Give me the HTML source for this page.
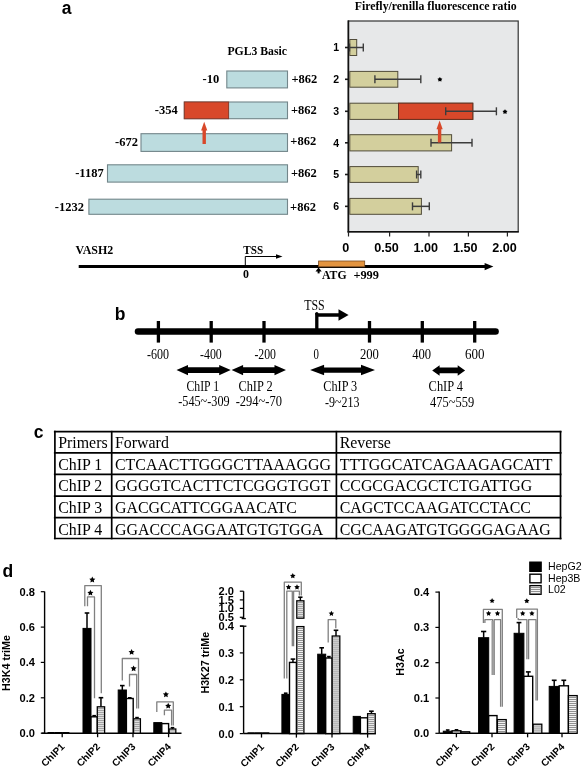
<!DOCTYPE html>
<html><head><meta charset="utf-8"><style>
html,body{margin:0;padding:0;background:#fff;}
body{width:584px;height:767px;overflow:hidden;font-family:"Liberation Sans",sans-serif;}
svg{display:block;will-change:transform;}
</style></head><body>
<svg width="584" height="767" viewBox="0 0 584 767">
<text x="61.80" y="13.80" font-family="'Liberation Sans', sans-serif" font-size="17.5" font-weight="bold" text-anchor="start" fill="#000" >a</text>
<text x="114.80" y="320.40" font-family="'Liberation Sans', sans-serif" font-size="17.5" font-weight="bold" text-anchor="start" fill="#000" >b</text>
<text x="33.80" y="437.60" font-family="'Liberation Sans', sans-serif" font-size="17.5" font-weight="bold" text-anchor="start" fill="#000" >c</text>
<text x="2.60" y="576.80" font-family="'Liberation Sans', sans-serif" font-size="17.5" font-weight="bold" text-anchor="start" fill="#000" >d</text>
<text x="227.40" y="54.80" font-family="'Liberation Serif', serif" font-size="11.7" font-weight="bold" text-anchor="start" fill="#000" textLength="59.6" lengthAdjust="spacingAndGlyphs" >PGL3 Basic</text>
<text x="354.70" y="10.10" font-family="'Liberation Serif', serif" font-size="11.8" font-weight="bold" text-anchor="start" fill="#000" textLength="161.9" lengthAdjust="spacingAndGlyphs" >Firefly/renilla fluorescence ratio</text>
<rect x="226.80" y="71.00" width="60.70" height="16.90" fill="#bcdcdf" stroke="#73868a" stroke-width="1.1" />
<text x="219.20" y="83.30" font-family="'Liberation Serif', serif" font-size="12.5" font-weight="bold" text-anchor="end" fill="#000" >-10</text>
<text x="291.40" y="83.10" font-family="'Liberation Serif', serif" font-size="12.5" font-weight="bold" text-anchor="start" fill="#000" >+862</text>
<rect x="184.30" y="102.00" width="103.20" height="16.70" fill="#bcdcdf" stroke="#73868a" stroke-width="1.1" />
<rect x="184.30" y="102.00" width="44.30" height="16.70" fill="#d8482a" stroke="#8a3a2a" stroke-width="1.0" />
<text x="177.70" y="114.40" font-family="'Liberation Serif', serif" font-size="12.5" font-weight="bold" text-anchor="end" fill="#000" >-354</text>
<text x="291.00" y="114.20" font-family="'Liberation Serif', serif" font-size="12.5" font-weight="bold" text-anchor="start" fill="#000" >+862</text>
<rect x="141.00" y="133.70" width="146.50" height="17.70" fill="#bcdcdf" stroke="#73868a" stroke-width="1.1" />
<text x="137.90" y="145.60" font-family="'Liberation Serif', serif" font-size="12.5" font-weight="bold" text-anchor="end" fill="#000" >-672</text>
<text x="290.30" y="145.40" font-family="'Liberation Serif', serif" font-size="12.5" font-weight="bold" text-anchor="start" fill="#000" >+862</text>
<rect x="107.50" y="164.80" width="180.00" height="17.30" fill="#bcdcdf" stroke="#73868a" stroke-width="1.1" />
<text x="103.70" y="177.00" font-family="'Liberation Serif', serif" font-size="12.5" font-weight="bold" text-anchor="end" fill="#000" >-1187</text>
<text x="290.90" y="176.80" font-family="'Liberation Serif', serif" font-size="12.5" font-weight="bold" text-anchor="start" fill="#000" >+862</text>
<rect x="88.90" y="199.20" width="198.60" height="15.10" fill="#bcdcdf" stroke="#73868a" stroke-width="1.1" />
<text x="84.00" y="210.80" font-family="'Liberation Serif', serif" font-size="12.5" font-weight="bold" text-anchor="end" fill="#000" >-1232</text>
<text x="290.10" y="210.60" font-family="'Liberation Serif', serif" font-size="12.5" font-weight="bold" text-anchor="start" fill="#000" >+862</text>
<line x1="204.20" y1="129.40" x2="204.20" y2="144.00" stroke="#d8482a" stroke-width="3.4" />
<polygon points="204.20,121.80 201.10,130.40 207.30,130.40" fill="#d8482a" />
<rect x="348.40" y="21.00" width="169.80" height="210.80" fill="#e7e8e9" stroke="#333" stroke-width="1.2" />
<line x1="348.40" y1="20.40" x2="348.40" y2="232.60" stroke="#111" stroke-width="1.7" />
<line x1="347.60" y1="231.80" x2="518.80" y2="231.80" stroke="#111" stroke-width="1.5" />
<rect x="349.80" y="39.50" width="6.90" height="16.00" fill="#d3cf9d" stroke="#514c3a" stroke-width="1.0" />
<line x1="349.50" y1="47.50" x2="363.30" y2="47.50" stroke="#3c3c3c" stroke-width="1.5" />
<line x1="349.50" y1="43.50" x2="349.50" y2="51.50" stroke="#3c3c3c" stroke-width="1.4" />
<line x1="363.30" y1="43.50" x2="363.30" y2="51.50" stroke="#3c3c3c" stroke-width="1.4" />
<line x1="345.00" y1="47.50" x2="348.40" y2="47.50" stroke="#1a1a1a" stroke-width="1.6" />
<text x="336.10" y="51.40" font-family="'Liberation Sans', sans-serif" font-size="10.5" font-weight="bold" text-anchor="middle" fill="#000" >1</text>
<rect x="349.80" y="71.40" width="48.00" height="15.80" fill="#d3cf9d" stroke="#514c3a" stroke-width="1.0" />
<line x1="374.90" y1="79.30" x2="420.80" y2="79.30" stroke="#3c3c3c" stroke-width="1.5" />
<line x1="374.90" y1="75.30" x2="374.90" y2="83.30" stroke="#3c3c3c" stroke-width="1.4" />
<line x1="420.80" y1="75.30" x2="420.80" y2="83.30" stroke="#3c3c3c" stroke-width="1.4" />
<line x1="345.00" y1="79.30" x2="348.40" y2="79.30" stroke="#1a1a1a" stroke-width="1.6" />
<text x="336.10" y="83.20" font-family="'Liberation Sans', sans-serif" font-size="10.5" font-weight="bold" text-anchor="middle" fill="#000" >2</text>
<rect x="349.80" y="103.20" width="123.00" height="16.20" fill="#d3cf9d" stroke="#514c3a" stroke-width="1.0" />
<rect x="398.50" y="103.20" width="74.30" height="16.20" fill="#d8482a" stroke="#6a3020" stroke-width="1.0" />
<line x1="445.70" y1="111.30" x2="496.40" y2="111.30" stroke="#3c3c3c" stroke-width="1.5" />
<line x1="445.70" y1="107.30" x2="445.70" y2="115.30" stroke="#3c3c3c" stroke-width="1.4" />
<line x1="496.40" y1="107.30" x2="496.40" y2="115.30" stroke="#3c3c3c" stroke-width="1.4" />
<line x1="345.00" y1="111.30" x2="348.40" y2="111.30" stroke="#1a1a1a" stroke-width="1.6" />
<text x="336.10" y="115.20" font-family="'Liberation Sans', sans-serif" font-size="10.5" font-weight="bold" text-anchor="middle" fill="#000" >3</text>
<rect x="349.80" y="134.70" width="101.80" height="16.20" fill="#d3cf9d" stroke="#514c3a" stroke-width="1.0" />
<line x1="431.00" y1="142.80" x2="472.00" y2="142.80" stroke="#3c3c3c" stroke-width="1.5" />
<line x1="431.00" y1="138.80" x2="431.00" y2="146.80" stroke="#3c3c3c" stroke-width="1.4" />
<line x1="472.00" y1="138.80" x2="472.00" y2="146.80" stroke="#3c3c3c" stroke-width="1.4" />
<line x1="345.00" y1="142.80" x2="348.40" y2="142.80" stroke="#1a1a1a" stroke-width="1.6" />
<text x="336.10" y="146.70" font-family="'Liberation Sans', sans-serif" font-size="10.5" font-weight="bold" text-anchor="middle" fill="#000" >4</text>
<rect x="349.80" y="166.60" width="68.40" height="15.80" fill="#d3cf9d" stroke="#514c3a" stroke-width="1.0" />
<line x1="416.60" y1="174.50" x2="420.80" y2="174.50" stroke="#3c3c3c" stroke-width="1.5" />
<line x1="416.60" y1="170.50" x2="416.60" y2="178.50" stroke="#3c3c3c" stroke-width="1.4" />
<line x1="420.80" y1="170.50" x2="420.80" y2="178.50" stroke="#3c3c3c" stroke-width="1.4" />
<line x1="345.00" y1="174.50" x2="348.40" y2="174.50" stroke="#1a1a1a" stroke-width="1.6" />
<text x="336.10" y="178.40" font-family="'Liberation Sans', sans-serif" font-size="10.5" font-weight="bold" text-anchor="middle" fill="#000" >5</text>
<rect x="349.80" y="198.40" width="71.60" height="15.90" fill="#d3cf9d" stroke="#514c3a" stroke-width="1.0" />
<line x1="412.50" y1="206.35" x2="429.30" y2="206.35" stroke="#3c3c3c" stroke-width="1.5" />
<line x1="412.50" y1="202.35" x2="412.50" y2="210.35" stroke="#3c3c3c" stroke-width="1.4" />
<line x1="429.30" y1="202.35" x2="429.30" y2="210.35" stroke="#3c3c3c" stroke-width="1.4" />
<line x1="345.00" y1="206.35" x2="348.40" y2="206.35" stroke="#1a1a1a" stroke-width="1.6" />
<text x="336.10" y="210.25" font-family="'Liberation Sans', sans-serif" font-size="10.5" font-weight="bold" text-anchor="middle" fill="#000" >6</text>
<polygon points="439.90,76.90 440.82,78.24 442.37,78.70 441.38,79.98 441.43,81.60 439.90,81.06 438.37,81.60 438.42,79.98 437.43,78.70 438.98,78.24" fill="#000" />
<polygon points="505.00,109.20 505.92,110.54 507.47,111.00 506.48,112.28 506.53,113.90 505.00,113.36 503.47,113.90 503.52,112.28 502.53,111.00 504.08,110.54" fill="#000" />
<line x1="439.60" y1="128.20" x2="439.60" y2="142.50" stroke="#d8482a" stroke-width="3.4" />
<polygon points="439.60,120.60 436.50,129.20 442.70,129.20" fill="#d8482a" />
<line x1="348.50" y1="231.80" x2="348.50" y2="236.50" stroke="#222" stroke-width="1.2" />
<text x="345.70" y="251.70" font-family="'Liberation Sans', sans-serif" font-size="12.6" font-weight="bold" text-anchor="middle" fill="#000" >0</text>
<line x1="389.60" y1="231.80" x2="389.60" y2="236.50" stroke="#222" stroke-width="1.2" />
<text x="386.60" y="251.70" font-family="'Liberation Sans', sans-serif" font-size="12.6" font-weight="bold" text-anchor="middle" fill="#000" >0.50</text>
<line x1="429.00" y1="231.80" x2="429.00" y2="236.50" stroke="#222" stroke-width="1.2" />
<text x="425.80" y="251.70" font-family="'Liberation Sans', sans-serif" font-size="12.6" font-weight="bold" text-anchor="middle" fill="#000" >1.00</text>
<line x1="468.40" y1="231.80" x2="468.40" y2="236.50" stroke="#222" stroke-width="1.2" />
<text x="465.30" y="251.70" font-family="'Liberation Sans', sans-serif" font-size="12.6" font-weight="bold" text-anchor="middle" fill="#000" >1.50</text>
<line x1="507.40" y1="231.80" x2="507.40" y2="236.50" stroke="#222" stroke-width="1.2" />
<text x="504.50" y="251.70" font-family="'Liberation Sans', sans-serif" font-size="12.6" font-weight="bold" text-anchor="middle" fill="#000" >2.00</text>
<text x="75.60" y="254.20" font-family="'Liberation Serif', serif" font-size="11.9" font-weight="bold" text-anchor="start" fill="#000" textLength="37.6" lengthAdjust="spacingAndGlyphs" >VASH2</text>
<text x="243.30" y="253.60" font-family="'Liberation Serif', serif" font-size="11.9" font-weight="bold" text-anchor="start" fill="#000" textLength="20.0" lengthAdjust="spacingAndGlyphs" >TSS</text>
<line x1="78.70" y1="266.60" x2="485.00" y2="266.60" stroke="#000" stroke-width="3.0" />
<polygon points="484.60,263.00 493.40,266.60 484.60,270.20" fill="#000" />
<polyline points="245.30,266.00 245.30,256.50 277.00,256.50" fill="none" stroke="#000" stroke-width="1.0" />
<polygon points="276.00,254.30 282.50,256.50 276.00,258.70" fill="#000" />
<text x="246.00" y="278.20" font-family="'Liberation Serif', serif" font-size="11.9" font-weight="bold" text-anchor="middle" fill="#000" >0</text>
<rect x="318.60" y="261.00" width="46.10" height="5.80" fill="#e3943f" stroke="#7a4a20" stroke-width="0.8" />
<line x1="318.60" y1="270.00" x2="318.60" y2="273.40" stroke="#000" stroke-width="2.0" />
<polygon points="318.60,267.60 315.50,271.40 321.70,271.40" fill="#000" />
<text x="322.00" y="278.80" font-family="'Liberation Serif', serif" font-size="11.9" font-weight="bold" text-anchor="start" fill="#000" textLength="24.6" lengthAdjust="spacingAndGlyphs" >ATG</text>
<text x="353.40" y="278.80" font-family="'Liberation Serif', serif" font-size="11.9" font-weight="bold" text-anchor="start" fill="#000" textLength="25.6" lengthAdjust="spacingAndGlyphs" >+999</text>
<line x1="138.00" y1="331.50" x2="495.60" y2="331.50" stroke="#000" stroke-width="6.5" stroke-linecap="round"/>
<line x1="158.40" y1="321.00" x2="158.40" y2="342.60" stroke="#000" stroke-width="3.3" />
<line x1="211.20" y1="321.00" x2="211.20" y2="342.60" stroke="#000" stroke-width="3.3" />
<line x1="264.00" y1="321.00" x2="264.00" y2="342.60" stroke="#000" stroke-width="3.3" />
<line x1="369.50" y1="321.00" x2="369.50" y2="342.60" stroke="#000" stroke-width="3.3" />
<line x1="422.30" y1="321.00" x2="422.30" y2="342.60" stroke="#000" stroke-width="3.3" />
<line x1="474.70" y1="321.00" x2="474.70" y2="342.60" stroke="#000" stroke-width="3.3" />
<text transform="translate(147.10,358.60) scale(1,1.15)" font-family="'Liberation Serif', serif" font-size="12.2" font-weight="normal" text-anchor="start" fill="#000" textLength="22.0" lengthAdjust="spacingAndGlyphs" >-600</text>
<text transform="translate(200.00,358.60) scale(1,1.15)" font-family="'Liberation Serif', serif" font-size="12.2" font-weight="normal" text-anchor="start" fill="#000" textLength="21.8" lengthAdjust="spacingAndGlyphs" >-400</text>
<text transform="translate(254.40,358.60) scale(1,1.15)" font-family="'Liberation Serif', serif" font-size="12.2" font-weight="normal" text-anchor="start" fill="#000" textLength="21.6" lengthAdjust="spacingAndGlyphs" >-200</text>
<text transform="translate(313.40,358.60) scale(1,1.15)" font-family="'Liberation Serif', serif" font-size="12.2" font-weight="normal" text-anchor="start" fill="#000" textLength="5.4" lengthAdjust="spacingAndGlyphs" >0</text>
<text transform="translate(359.90,358.60) scale(1,1.15)" font-family="'Liberation Serif', serif" font-size="12.2" font-weight="normal" text-anchor="start" fill="#000" textLength="19.0" lengthAdjust="spacingAndGlyphs" >200</text>
<text transform="translate(412.20,358.60) scale(1,1.15)" font-family="'Liberation Serif', serif" font-size="12.2" font-weight="normal" text-anchor="start" fill="#000" textLength="18.9" lengthAdjust="spacingAndGlyphs" >400</text>
<text transform="translate(465.00,358.60) scale(1,1.15)" font-family="'Liberation Serif', serif" font-size="12.2" font-weight="normal" text-anchor="start" fill="#000" textLength="19.5" lengthAdjust="spacingAndGlyphs" >600</text>
<polyline points="316.80,331.00 316.80,315.00 339.00,315.00" fill="none" stroke="#000" stroke-width="3.3" />
<circle cx="316.8" cy="313.6" r="1.6" fill="#000"/>
<polygon points="338.50,309.30 348.60,315.00 338.50,320.70" fill="#000" />
<text transform="translate(304.20,309.50) scale(1,1.15)" font-family="'Liberation Serif', serif" font-size="12.0" font-weight="normal" text-anchor="start" fill="#000" textLength="20.5" lengthAdjust="spacingAndGlyphs" >TSS</text>
<polygon points="176.50,370.10 188.00,364.90 188.00,367.20 219.20,367.20 219.20,364.90 230.70,370.10 219.20,375.30 219.20,373.00 188.00,373.00 188.00,375.30" fill="#000" />
<polygon points="231.60,370.10 243.10,364.90 243.10,367.20 274.50,367.20 274.50,364.90 286.00,370.10 274.50,375.30 274.50,373.00 243.10,373.00 243.10,375.30" fill="#000" />
<polygon points="310.10,370.10 324.10,364.85 324.10,367.40 361.00,367.40 361.00,364.85 375.00,370.10 361.00,375.35 361.00,372.80 324.10,372.80 324.10,375.35" fill="#000" />
<polygon points="432.20,370.40 439.60,365.15 439.60,367.60 457.70,367.60 457.70,365.15 465.10,370.40 457.70,375.65 457.70,373.20 439.60,373.20 439.60,375.65" fill="#000" />
<text transform="translate(186.50,391.40) scale(1,1.15)" font-family="'Liberation Serif', serif" font-size="11.9" font-weight="normal" text-anchor="start" fill="#000" textLength="32.5" lengthAdjust="spacingAndGlyphs" >ChIP 1</text>
<text transform="translate(238.40,391.40) scale(1,1.15)" font-family="'Liberation Serif', serif" font-size="11.9" font-weight="normal" text-anchor="start" fill="#000" textLength="34.3" lengthAdjust="spacingAndGlyphs" >ChIP 2</text>
<text transform="translate(323.30,391.40) scale(1,1.15)" font-family="'Liberation Serif', serif" font-size="11.9" font-weight="normal" text-anchor="start" fill="#000" textLength="33.9" lengthAdjust="spacingAndGlyphs" >ChIP 3</text>
<text transform="translate(428.60,391.40) scale(1,1.15)" font-family="'Liberation Serif', serif" font-size="11.9" font-weight="normal" text-anchor="start" fill="#000" textLength="34.4" lengthAdjust="spacingAndGlyphs" >ChIP 4</text>
<text transform="translate(178.20,406.40) scale(1,1.15)" font-family="'Liberation Serif', serif" font-size="11.9" font-weight="normal" text-anchor="start" fill="#000" textLength="51.4" lengthAdjust="spacingAndGlyphs" >-545~-309</text>
<text transform="translate(235.70,406.40) scale(1,1.15)" font-family="'Liberation Serif', serif" font-size="11.9" font-weight="normal" text-anchor="start" fill="#000" textLength="46.3" lengthAdjust="spacingAndGlyphs" >-294~-70</text>
<text transform="translate(325.00,406.80) scale(1,1.15)" font-family="'Liberation Serif', serif" font-size="11.9" font-weight="normal" text-anchor="start" fill="#000" textLength="34.4" lengthAdjust="spacingAndGlyphs" >-9~213</text>
<text transform="translate(430.00,407.30) scale(1,1.15)" font-family="'Liberation Serif', serif" font-size="11.9" font-weight="normal" text-anchor="start" fill="#000" textLength="44.2" lengthAdjust="spacingAndGlyphs" >475~559</text>
<text x="58.20" y="447.90" font-family="'Liberation Serif', serif" font-size="15.9" font-weight="normal" text-anchor="start" fill="#000" >Primers</text>
<text x="115.00" y="447.90" font-family="'Liberation Serif', serif" font-size="15.9" font-weight="normal" text-anchor="start" fill="#000" >Forward</text>
<text x="339.70" y="447.90" font-family="'Liberation Serif', serif" font-size="15.9" font-weight="normal" text-anchor="start" fill="#000" >Reverse</text>
<text x="58.20" y="469.80" font-family="'Liberation Serif', serif" font-size="15.9" font-weight="normal" text-anchor="start" fill="#000" >ChIP 1</text>
<text x="115.00" y="469.80" font-family="'Liberation Serif', serif" font-size="15.9" font-weight="normal" text-anchor="start" fill="#000" >CTCAACTTGGGCTTAAAGGG</text>
<text x="339.70" y="469.80" font-family="'Liberation Serif', serif" font-size="15.9" font-weight="normal" text-anchor="start" fill="#000" >TTTGGCATCAGAAGAGCATT</text>
<text x="58.20" y="491.20" font-family="'Liberation Serif', serif" font-size="15.9" font-weight="normal" text-anchor="start" fill="#000" >ChIP 2</text>
<text x="115.00" y="491.20" font-family="'Liberation Serif', serif" font-size="15.9" font-weight="normal" text-anchor="start" fill="#000" >GGGGTCACTTCTCGGGTGGT</text>
<text x="339.70" y="491.20" font-family="'Liberation Serif', serif" font-size="15.9" font-weight="normal" text-anchor="start" fill="#000" >CCGCGACGCTCTGATTGG</text>
<text x="58.20" y="513.00" font-family="'Liberation Serif', serif" font-size="15.9" font-weight="normal" text-anchor="start" fill="#000" >ChIP 3</text>
<text x="115.00" y="513.00" font-family="'Liberation Serif', serif" font-size="15.9" font-weight="normal" text-anchor="start" fill="#000" >GACGCATTCGGAACATC</text>
<text x="339.70" y="513.00" font-family="'Liberation Serif', serif" font-size="15.9" font-weight="normal" text-anchor="start" fill="#000" >CAGCTCCAAGATCCTACC</text>
<text x="58.20" y="534.50" font-family="'Liberation Serif', serif" font-size="15.9" font-weight="normal" text-anchor="start" fill="#000" >ChIP 4</text>
<text x="115.00" y="534.50" font-family="'Liberation Serif', serif" font-size="15.9" font-weight="normal" text-anchor="start" fill="#000" >GGACCCAGGAATGTGTGGA</text>
<text x="339.70" y="534.50" font-family="'Liberation Serif', serif" font-size="15.9" font-weight="normal" text-anchor="start" fill="#000" >CGCAAGATGTGGGGAGAAG</text>
<line x1="53.90" y1="431.70" x2="561.50" y2="431.70" stroke="#000" stroke-width="1.7" />
<line x1="53.90" y1="452.90" x2="561.50" y2="452.90" stroke="#000" stroke-width="1.7" />
<line x1="53.90" y1="474.30" x2="561.50" y2="474.30" stroke="#000" stroke-width="1.7" />
<line x1="53.90" y1="496.10" x2="561.50" y2="496.10" stroke="#000" stroke-width="1.7" />
<line x1="53.90" y1="517.60" x2="561.50" y2="517.60" stroke="#000" stroke-width="1.7" />
<line x1="53.90" y1="538.50" x2="561.50" y2="538.50" stroke="#000" stroke-width="1.7" />
<line x1="54.90" y1="430.85" x2="54.90" y2="539.35" stroke="#000" stroke-width="1.7" />
<line x1="111.70" y1="430.85" x2="111.70" y2="539.35" stroke="#000" stroke-width="1.7" />
<line x1="336.40" y1="430.85" x2="336.40" y2="539.35" stroke="#000" stroke-width="1.7" />
<line x1="560.50" y1="430.85" x2="560.50" y2="539.35" stroke="#000" stroke-width="1.7" />
<line x1="44.60" y1="591.50" x2="44.60" y2="733.20" stroke="#000" stroke-width="1.4" />
<line x1="40.80" y1="591.70" x2="44.60" y2="591.70" stroke="#000" stroke-width="1.2" />
<text x="35.00" y="595.60" font-family="'Liberation Sans', sans-serif" font-size="11.1" font-weight="bold" text-anchor="end" fill="#000" >0.8</text>
<line x1="40.80" y1="627.10" x2="44.60" y2="627.10" stroke="#000" stroke-width="1.2" />
<text x="35.00" y="631.00" font-family="'Liberation Sans', sans-serif" font-size="11.1" font-weight="bold" text-anchor="end" fill="#000" >0.6</text>
<line x1="40.80" y1="662.40" x2="44.60" y2="662.40" stroke="#000" stroke-width="1.2" />
<text x="35.00" y="666.30" font-family="'Liberation Sans', sans-serif" font-size="11.1" font-weight="bold" text-anchor="end" fill="#000" >0.4</text>
<line x1="40.80" y1="697.80" x2="44.60" y2="697.80" stroke="#000" stroke-width="1.2" />
<text x="35.00" y="701.70" font-family="'Liberation Sans', sans-serif" font-size="11.1" font-weight="bold" text-anchor="end" fill="#000" >0.2</text>
<line x1="40.80" y1="733.20" x2="44.60" y2="733.20" stroke="#000" stroke-width="1.2" />
<text x="35.00" y="737.10" font-family="'Liberation Sans', sans-serif" font-size="11.1" font-weight="bold" text-anchor="end" fill="#000" >0.0</text>
<line x1="41.60" y1="733.20" x2="181.50" y2="733.20" stroke="#000" stroke-width="1.5" />
<line x1="62.20" y1="733.20" x2="62.20" y2="737.20" stroke="#000" stroke-width="1.3" />
<text transform="translate(65.30,747.20) rotate(-45)" font-family="'Liberation Sans', sans-serif" font-size="10" font-weight="bold" text-anchor="end">ChIP1</text>
<line x1="97.60" y1="733.20" x2="97.60" y2="737.20" stroke="#000" stroke-width="1.3" />
<text transform="translate(100.70,747.20) rotate(-45)" font-family="'Liberation Sans', sans-serif" font-size="10" font-weight="bold" text-anchor="end">ChIP2</text>
<line x1="133.00" y1="733.20" x2="133.00" y2="737.20" stroke="#000" stroke-width="1.3" />
<text transform="translate(136.10,747.20) rotate(-45)" font-family="'Liberation Sans', sans-serif" font-size="10" font-weight="bold" text-anchor="end">ChIP3</text>
<line x1="168.60" y1="733.20" x2="168.60" y2="737.20" stroke="#000" stroke-width="1.3" />
<text transform="translate(171.70,747.20) rotate(-45)" font-family="'Liberation Sans', sans-serif" font-size="10" font-weight="bold" text-anchor="end">ChIP4</text>
<text transform="translate(10.3,663) rotate(-90)" font-family="'Liberation Sans', sans-serif" font-size="10.7" font-weight="bold" text-anchor="middle">H3K4 triMe</text>
<rect x="47.50" y="732.00" width="7.30" height="1.20" fill="#000" stroke="none" stroke-width="1" />
<rect x="54.80" y="732.00" width="7.30" height="1.20" fill="#000" stroke="none" stroke-width="1" />
<rect x="62.10" y="732.00" width="7.30" height="1.20" fill="#000" stroke="none" stroke-width="1" />
<line x1="87.00" y1="613.00" x2="87.00" y2="628.40" stroke="#000" stroke-width="1.5" />
<line x1="84.70" y1="613.00" x2="89.30" y2="613.00" stroke="#000" stroke-width="1.6" />
<rect x="83.00" y="628.40" width="8.00" height="104.80" fill="#000" stroke="#000" stroke-width="1.0" />
<line x1="94.15" y1="715.70" x2="94.15" y2="716.80" stroke="#000" stroke-width="1.5" />
<line x1="92.35" y1="715.70" x2="95.95" y2="715.70" stroke="#000" stroke-width="1.6" />
<rect x="91.00" y="716.80" width="6.30" height="16.40" fill="#fff" stroke="#000" stroke-width="1.4" />
<line x1="100.95" y1="697.70" x2="100.95" y2="706.80" stroke="#000" stroke-width="1.5" />
<line x1="98.65" y1="697.70" x2="103.25" y2="697.70" stroke="#000" stroke-width="1.6" />
<rect x="97.30" y="706.80" width="7.30" height="26.40" fill="#f2f2f2" stroke="#000" stroke-width="1.3" />
<line x1="97.90" y1="708.70" x2="104.00" y2="708.70" stroke="#707070" stroke-width="0.75" />
<line x1="97.90" y1="710.70" x2="104.00" y2="710.70" stroke="#707070" stroke-width="0.75" />
<line x1="97.90" y1="712.70" x2="104.00" y2="712.70" stroke="#707070" stroke-width="0.75" />
<line x1="97.90" y1="714.70" x2="104.00" y2="714.70" stroke="#707070" stroke-width="0.75" />
<line x1="97.90" y1="716.70" x2="104.00" y2="716.70" stroke="#707070" stroke-width="0.75" />
<line x1="97.90" y1="718.70" x2="104.00" y2="718.70" stroke="#707070" stroke-width="0.75" />
<line x1="97.90" y1="720.70" x2="104.00" y2="720.70" stroke="#707070" stroke-width="0.75" />
<line x1="97.90" y1="722.70" x2="104.00" y2="722.70" stroke="#707070" stroke-width="0.75" />
<line x1="97.90" y1="724.70" x2="104.00" y2="724.70" stroke="#707070" stroke-width="0.75" />
<line x1="97.90" y1="726.70" x2="104.00" y2="726.70" stroke="#707070" stroke-width="0.75" />
<line x1="97.90" y1="728.70" x2="104.00" y2="728.70" stroke="#707070" stroke-width="0.75" />
<line x1="97.90" y1="730.70" x2="104.00" y2="730.70" stroke="#707070" stroke-width="0.75" />
<line x1="122.30" y1="685.60" x2="122.30" y2="690.00" stroke="#000" stroke-width="1.5" />
<line x1="120.00" y1="685.60" x2="124.60" y2="685.60" stroke="#000" stroke-width="1.6" />
<rect x="118.20" y="690.00" width="8.20" height="43.20" fill="#000" stroke="#000" stroke-width="1.0" />
<line x1="129.80" y1="697.80" x2="129.80" y2="698.50" stroke="#000" stroke-width="1.5" />
<line x1="128.00" y1="697.80" x2="131.60" y2="697.80" stroke="#000" stroke-width="1.6" />
<rect x="126.40" y="698.50" width="6.80" height="34.70" fill="#fff" stroke="#000" stroke-width="1.4" />
<line x1="137.00" y1="717.60" x2="137.00" y2="718.80" stroke="#000" stroke-width="1.5" />
<line x1="135.20" y1="717.60" x2="138.80" y2="717.60" stroke="#000" stroke-width="1.6" />
<rect x="133.60" y="718.80" width="6.80" height="14.40" fill="#f2f2f2" stroke="#000" stroke-width="1.3" />
<line x1="134.20" y1="720.70" x2="139.80" y2="720.70" stroke="#707070" stroke-width="0.75" />
<line x1="134.20" y1="722.70" x2="139.80" y2="722.70" stroke="#707070" stroke-width="0.75" />
<line x1="134.20" y1="724.70" x2="139.80" y2="724.70" stroke="#707070" stroke-width="0.75" />
<line x1="134.20" y1="726.70" x2="139.80" y2="726.70" stroke="#707070" stroke-width="0.75" />
<line x1="134.20" y1="728.70" x2="139.80" y2="728.70" stroke="#707070" stroke-width="0.75" />
<line x1="134.20" y1="730.70" x2="139.80" y2="730.70" stroke="#707070" stroke-width="0.75" />
<rect x="153.80" y="722.60" width="8.00" height="10.60" fill="#000" stroke="#000" stroke-width="1.0" />
<rect x="161.80" y="723.60" width="6.80" height="9.60" fill="#fff" stroke="#000" stroke-width="1.4" />
<line x1="172.50" y1="727.70" x2="172.50" y2="729.00" stroke="#000" stroke-width="1.5" />
<line x1="170.70" y1="727.70" x2="174.30" y2="727.70" stroke="#000" stroke-width="1.6" />
<rect x="169.20" y="729.00" width="6.60" height="4.20" fill="#f2f2f2" stroke="#000" stroke-width="1.3" />
<line x1="169.80" y1="730.90" x2="175.20" y2="730.90" stroke="#707070" stroke-width="0.75" />
<polyline points="84.80,606.30 84.80,585.60 101.30,585.60 101.30,693.20" fill="none" stroke="#808080" stroke-width="1.3" stroke-linejoin="round"/>
<polyline points="87.50,606.30 87.50,596.90 94.50,596.90 94.50,698.20" fill="none" stroke="#808080" stroke-width="1.3" stroke-linejoin="round"/>
<polygon points="92.30,576.60 93.24,578.51 95.34,578.81 93.82,580.29 94.18,582.39 92.30,581.40 90.42,582.39 90.78,580.29 89.26,578.81 91.36,578.51" fill="#000" />
<polygon points="90.40,589.80 91.34,591.71 93.44,592.01 91.92,593.49 92.28,595.59 90.40,594.60 88.52,595.59 88.88,593.49 87.36,592.01 89.46,591.71" fill="#000" />
<polyline points="122.30,680.40 122.30,658.50 138.50,658.50 138.50,708.50" fill="none" stroke="#808080" stroke-width="1.3" stroke-linejoin="round"/>
<polyline points="129.50,686.60 129.50,674.50 136.70,674.50 136.70,708.50" fill="none" stroke="#808080" stroke-width="1.3" stroke-linejoin="round"/>
<polygon points="131.60,649.00 132.54,650.91 134.64,651.21 133.12,652.69 133.48,654.79 131.60,653.80 129.72,654.79 130.08,652.69 128.56,651.21 130.66,650.91" fill="#000" />
<polygon points="133.60,665.40 134.54,667.31 136.64,667.61 135.12,669.09 135.48,671.19 133.60,670.20 131.72,671.19 132.08,669.09 130.56,667.61 132.66,667.31" fill="#000" />
<polyline points="156.80,711.90 156.80,701.90 173.30,701.90 173.30,725.60" fill="none" stroke="#808080" stroke-width="1.3" stroke-linejoin="round"/>
<polyline points="164.40,715.30 164.40,710.10 171.60,710.10 171.60,725.60" fill="none" stroke="#808080" stroke-width="1.3" stroke-linejoin="round"/>
<polygon points="165.90,691.40 166.84,693.31 168.94,693.61 167.42,695.09 167.78,697.19 165.90,696.20 164.02,697.19 164.38,695.09 162.86,693.61 164.96,693.31" fill="#000" />
<polygon points="168.20,702.80 169.14,704.71 171.24,705.01 169.72,706.49 170.08,708.59 168.20,707.60 166.32,708.59 166.68,706.49 165.16,705.01 167.26,704.71" fill="#000" />
<line x1="243.60" y1="626.20" x2="243.60" y2="733.60" stroke="#000" stroke-width="1.4" />
<line x1="239.80" y1="626.00" x2="243.60" y2="626.00" stroke="#000" stroke-width="1.2" />
<text x="233.90" y="629.90" font-family="'Liberation Sans', sans-serif" font-size="11.1" font-weight="bold" text-anchor="end" fill="#000" >0.4</text>
<line x1="239.80" y1="652.90" x2="243.60" y2="652.90" stroke="#000" stroke-width="1.2" />
<text x="233.90" y="656.80" font-family="'Liberation Sans', sans-serif" font-size="11.1" font-weight="bold" text-anchor="end" fill="#000" >0.3</text>
<line x1="239.80" y1="679.80" x2="243.60" y2="679.80" stroke="#000" stroke-width="1.2" />
<text x="233.90" y="683.70" font-family="'Liberation Sans', sans-serif" font-size="11.1" font-weight="bold" text-anchor="end" fill="#000" >0.2</text>
<line x1="239.80" y1="706.70" x2="243.60" y2="706.70" stroke="#000" stroke-width="1.2" />
<text x="233.90" y="710.60" font-family="'Liberation Sans', sans-serif" font-size="11.1" font-weight="bold" text-anchor="end" fill="#000" >0.1</text>
<line x1="239.80" y1="733.60" x2="243.60" y2="733.60" stroke="#000" stroke-width="1.2" />
<text x="233.90" y="737.50" font-family="'Liberation Sans', sans-serif" font-size="11.1" font-weight="bold" text-anchor="end" fill="#000" >0.0</text>
<line x1="243.60" y1="591.20" x2="243.60" y2="618.60" stroke="#000" stroke-width="1.4" />
<line x1="239.80" y1="591.20" x2="243.60" y2="591.20" stroke="#000" stroke-width="1.2" />
<text x="233.90" y="595.10" font-family="'Liberation Sans', sans-serif" font-size="11.1" font-weight="bold" text-anchor="end" fill="#000" >2.0</text>
<line x1="239.80" y1="599.90" x2="243.60" y2="599.90" stroke="#000" stroke-width="1.2" />
<text x="233.90" y="603.80" font-family="'Liberation Sans', sans-serif" font-size="11.1" font-weight="bold" text-anchor="end" fill="#000" >1.5</text>
<line x1="239.80" y1="608.40" x2="243.60" y2="608.40" stroke="#000" stroke-width="1.2" />
<text x="233.90" y="612.30" font-family="'Liberation Sans', sans-serif" font-size="11.1" font-weight="bold" text-anchor="end" fill="#000" >1.0</text>
<line x1="239.80" y1="617.30" x2="243.60" y2="617.30" stroke="#000" stroke-width="1.2" />
<text x="233.90" y="621.20" font-family="'Liberation Sans', sans-serif" font-size="11.1" font-weight="bold" text-anchor="end" fill="#000" >0.5</text>
<line x1="241.60" y1="618.60" x2="245.80" y2="618.60" stroke="#000" stroke-width="1.3" />
<line x1="240.00" y1="626.20" x2="246.40" y2="626.20" stroke="#000" stroke-width="1.3" />
<line x1="243.60" y1="733.60" x2="376.00" y2="733.60" stroke="#000" stroke-width="1.5" />
<line x1="261.50" y1="733.60" x2="261.50" y2="737.60" stroke="#000" stroke-width="1.3" />
<text transform="translate(264.60,747.60) rotate(-45)" font-family="'Liberation Sans', sans-serif" font-size="10" font-weight="bold" text-anchor="end">ChIP1</text>
<line x1="296.40" y1="733.60" x2="296.40" y2="737.60" stroke="#000" stroke-width="1.3" />
<text transform="translate(299.50,747.60) rotate(-45)" font-family="'Liberation Sans', sans-serif" font-size="10" font-weight="bold" text-anchor="end">ChIP2</text>
<line x1="332.00" y1="733.60" x2="332.00" y2="737.60" stroke="#000" stroke-width="1.3" />
<text transform="translate(335.10,747.60) rotate(-45)" font-family="'Liberation Sans', sans-serif" font-size="10" font-weight="bold" text-anchor="end">ChIP3</text>
<line x1="367.60" y1="733.60" x2="367.60" y2="737.60" stroke="#000" stroke-width="1.3" />
<text transform="translate(370.70,747.60) rotate(-45)" font-family="'Liberation Sans', sans-serif" font-size="10" font-weight="bold" text-anchor="end">ChIP4</text>
<text transform="translate(209.0,662.7) rotate(-90)" font-family="'Liberation Sans', sans-serif" font-size="10.7" font-weight="bold" text-anchor="middle">H3K27 triMe</text>
<rect x="247.50" y="732.30" width="7.30" height="1.30" fill="#000" stroke="none" stroke-width="1" />
<rect x="254.80" y="732.30" width="7.30" height="1.30" fill="#000" stroke="none" stroke-width="1" />
<rect x="262.10" y="732.30" width="7.30" height="1.30" fill="#000" stroke="none" stroke-width="1" />
<line x1="285.70" y1="693.20" x2="285.70" y2="694.40" stroke="#000" stroke-width="1.5" />
<line x1="283.90" y1="693.20" x2="287.50" y2="693.20" stroke="#000" stroke-width="1.6" />
<rect x="281.90" y="694.40" width="7.60" height="39.20" fill="#000" stroke="#000" stroke-width="1.0" />
<line x1="292.95" y1="659.10" x2="292.95" y2="662.40" stroke="#000" stroke-width="1.5" />
<line x1="290.65" y1="659.10" x2="295.25" y2="659.10" stroke="#000" stroke-width="1.6" />
<rect x="289.50" y="662.40" width="6.90" height="71.20" fill="#fff" stroke="#000" stroke-width="1.4" />
<rect x="296.80" y="626.60" width="7.10" height="107.00" fill="#f2f2f2" stroke="#000" stroke-width="1.3" />
<line x1="297.40" y1="628.50" x2="303.30" y2="628.50" stroke="#707070" stroke-width="0.75" />
<line x1="297.40" y1="630.50" x2="303.30" y2="630.50" stroke="#707070" stroke-width="0.75" />
<line x1="297.40" y1="632.50" x2="303.30" y2="632.50" stroke="#707070" stroke-width="0.75" />
<line x1="297.40" y1="634.50" x2="303.30" y2="634.50" stroke="#707070" stroke-width="0.75" />
<line x1="297.40" y1="636.50" x2="303.30" y2="636.50" stroke="#707070" stroke-width="0.75" />
<line x1="297.40" y1="638.50" x2="303.30" y2="638.50" stroke="#707070" stroke-width="0.75" />
<line x1="297.40" y1="640.50" x2="303.30" y2="640.50" stroke="#707070" stroke-width="0.75" />
<line x1="297.40" y1="642.50" x2="303.30" y2="642.50" stroke="#707070" stroke-width="0.75" />
<line x1="297.40" y1="644.50" x2="303.30" y2="644.50" stroke="#707070" stroke-width="0.75" />
<line x1="297.40" y1="646.50" x2="303.30" y2="646.50" stroke="#707070" stroke-width="0.75" />
<line x1="297.40" y1="648.50" x2="303.30" y2="648.50" stroke="#707070" stroke-width="0.75" />
<line x1="297.40" y1="650.50" x2="303.30" y2="650.50" stroke="#707070" stroke-width="0.75" />
<line x1="297.40" y1="652.50" x2="303.30" y2="652.50" stroke="#707070" stroke-width="0.75" />
<line x1="297.40" y1="654.50" x2="303.30" y2="654.50" stroke="#707070" stroke-width="0.75" />
<line x1="297.40" y1="656.50" x2="303.30" y2="656.50" stroke="#707070" stroke-width="0.75" />
<line x1="297.40" y1="658.50" x2="303.30" y2="658.50" stroke="#707070" stroke-width="0.75" />
<line x1="297.40" y1="660.50" x2="303.30" y2="660.50" stroke="#707070" stroke-width="0.75" />
<line x1="297.40" y1="662.50" x2="303.30" y2="662.50" stroke="#707070" stroke-width="0.75" />
<line x1="297.40" y1="664.50" x2="303.30" y2="664.50" stroke="#707070" stroke-width="0.75" />
<line x1="297.40" y1="666.50" x2="303.30" y2="666.50" stroke="#707070" stroke-width="0.75" />
<line x1="297.40" y1="668.50" x2="303.30" y2="668.50" stroke="#707070" stroke-width="0.75" />
<line x1="297.40" y1="670.50" x2="303.30" y2="670.50" stroke="#707070" stroke-width="0.75" />
<line x1="297.40" y1="672.50" x2="303.30" y2="672.50" stroke="#707070" stroke-width="0.75" />
<line x1="297.40" y1="674.50" x2="303.30" y2="674.50" stroke="#707070" stroke-width="0.75" />
<line x1="297.40" y1="676.50" x2="303.30" y2="676.50" stroke="#707070" stroke-width="0.75" />
<line x1="297.40" y1="678.50" x2="303.30" y2="678.50" stroke="#707070" stroke-width="0.75" />
<line x1="297.40" y1="680.50" x2="303.30" y2="680.50" stroke="#707070" stroke-width="0.75" />
<line x1="297.40" y1="682.50" x2="303.30" y2="682.50" stroke="#707070" stroke-width="0.75" />
<line x1="297.40" y1="684.50" x2="303.30" y2="684.50" stroke="#707070" stroke-width="0.75" />
<line x1="297.40" y1="686.50" x2="303.30" y2="686.50" stroke="#707070" stroke-width="0.75" />
<line x1="297.40" y1="688.50" x2="303.30" y2="688.50" stroke="#707070" stroke-width="0.75" />
<line x1="297.40" y1="690.50" x2="303.30" y2="690.50" stroke="#707070" stroke-width="0.75" />
<line x1="297.40" y1="692.50" x2="303.30" y2="692.50" stroke="#707070" stroke-width="0.75" />
<line x1="297.40" y1="694.50" x2="303.30" y2="694.50" stroke="#707070" stroke-width="0.75" />
<line x1="297.40" y1="696.50" x2="303.30" y2="696.50" stroke="#707070" stroke-width="0.75" />
<line x1="297.40" y1="698.50" x2="303.30" y2="698.50" stroke="#707070" stroke-width="0.75" />
<line x1="297.40" y1="700.50" x2="303.30" y2="700.50" stroke="#707070" stroke-width="0.75" />
<line x1="297.40" y1="702.50" x2="303.30" y2="702.50" stroke="#707070" stroke-width="0.75" />
<line x1="297.40" y1="704.50" x2="303.30" y2="704.50" stroke="#707070" stroke-width="0.75" />
<line x1="297.40" y1="706.50" x2="303.30" y2="706.50" stroke="#707070" stroke-width="0.75" />
<line x1="297.40" y1="708.50" x2="303.30" y2="708.50" stroke="#707070" stroke-width="0.75" />
<line x1="297.40" y1="710.50" x2="303.30" y2="710.50" stroke="#707070" stroke-width="0.75" />
<line x1="297.40" y1="712.50" x2="303.30" y2="712.50" stroke="#707070" stroke-width="0.75" />
<line x1="297.40" y1="714.50" x2="303.30" y2="714.50" stroke="#707070" stroke-width="0.75" />
<line x1="297.40" y1="716.50" x2="303.30" y2="716.50" stroke="#707070" stroke-width="0.75" />
<line x1="297.40" y1="718.50" x2="303.30" y2="718.50" stroke="#707070" stroke-width="0.75" />
<line x1="297.40" y1="720.50" x2="303.30" y2="720.50" stroke="#707070" stroke-width="0.75" />
<line x1="297.40" y1="722.50" x2="303.30" y2="722.50" stroke="#707070" stroke-width="0.75" />
<line x1="297.40" y1="724.50" x2="303.30" y2="724.50" stroke="#707070" stroke-width="0.75" />
<line x1="297.40" y1="726.50" x2="303.30" y2="726.50" stroke="#707070" stroke-width="0.75" />
<line x1="297.40" y1="728.50" x2="303.30" y2="728.50" stroke="#707070" stroke-width="0.75" />
<line x1="297.40" y1="730.50" x2="303.30" y2="730.50" stroke="#707070" stroke-width="0.75" />
<line x1="297.40" y1="732.50" x2="303.30" y2="732.50" stroke="#707070" stroke-width="0.75" />
<rect x="296.80" y="600.80" width="7.10" height="17.40" fill="#f2f2f2" stroke="#000" stroke-width="1.3" />
<line x1="297.40" y1="602.70" x2="303.30" y2="602.70" stroke="#707070" stroke-width="0.75" />
<line x1="297.40" y1="604.70" x2="303.30" y2="604.70" stroke="#707070" stroke-width="0.75" />
<line x1="297.40" y1="606.70" x2="303.30" y2="606.70" stroke="#707070" stroke-width="0.75" />
<line x1="297.40" y1="608.70" x2="303.30" y2="608.70" stroke="#707070" stroke-width="0.75" />
<line x1="297.40" y1="610.70" x2="303.30" y2="610.70" stroke="#707070" stroke-width="0.75" />
<line x1="297.40" y1="612.70" x2="303.30" y2="612.70" stroke="#707070" stroke-width="0.75" />
<line x1="297.40" y1="614.70" x2="303.30" y2="614.70" stroke="#707070" stroke-width="0.75" />
<line x1="297.40" y1="616.70" x2="303.30" y2="616.70" stroke="#707070" stroke-width="0.75" />
<line x1="300.35" y1="597.20" x2="300.35" y2="600.80" stroke="#000" stroke-width="1.5" />
<line x1="298.20" y1="597.20" x2="302.50" y2="597.20" stroke="#000" stroke-width="1.6" />
<line x1="321.70" y1="647.80" x2="321.70" y2="654.20" stroke="#000" stroke-width="1.5" />
<line x1="319.40" y1="647.80" x2="324.00" y2="647.80" stroke="#000" stroke-width="1.6" />
<rect x="317.70" y="654.20" width="8.00" height="79.40" fill="#000" stroke="#000" stroke-width="1.0" />
<line x1="328.90" y1="656.60" x2="328.90" y2="658.00" stroke="#000" stroke-width="1.5" />
<line x1="327.10" y1="656.60" x2="330.70" y2="656.60" stroke="#000" stroke-width="1.6" />
<rect x="325.70" y="658.00" width="6.40" height="75.60" fill="#fff" stroke="#000" stroke-width="1.4" />
<line x1="336.00" y1="630.30" x2="336.00" y2="636.00" stroke="#000" stroke-width="1.5" />
<line x1="333.70" y1="630.30" x2="338.30" y2="630.30" stroke="#000" stroke-width="1.6" />
<rect x="332.20" y="636.00" width="7.60" height="97.60" fill="#f2f2f2" stroke="#000" stroke-width="1.3" />
<line x1="332.80" y1="637.90" x2="339.20" y2="637.90" stroke="#707070" stroke-width="0.75" />
<line x1="332.80" y1="639.90" x2="339.20" y2="639.90" stroke="#707070" stroke-width="0.75" />
<line x1="332.80" y1="641.90" x2="339.20" y2="641.90" stroke="#707070" stroke-width="0.75" />
<line x1="332.80" y1="643.90" x2="339.20" y2="643.90" stroke="#707070" stroke-width="0.75" />
<line x1="332.80" y1="645.90" x2="339.20" y2="645.90" stroke="#707070" stroke-width="0.75" />
<line x1="332.80" y1="647.90" x2="339.20" y2="647.90" stroke="#707070" stroke-width="0.75" />
<line x1="332.80" y1="649.90" x2="339.20" y2="649.90" stroke="#707070" stroke-width="0.75" />
<line x1="332.80" y1="651.90" x2="339.20" y2="651.90" stroke="#707070" stroke-width="0.75" />
<line x1="332.80" y1="653.90" x2="339.20" y2="653.90" stroke="#707070" stroke-width="0.75" />
<line x1="332.80" y1="655.90" x2="339.20" y2="655.90" stroke="#707070" stroke-width="0.75" />
<line x1="332.80" y1="657.90" x2="339.20" y2="657.90" stroke="#707070" stroke-width="0.75" />
<line x1="332.80" y1="659.90" x2="339.20" y2="659.90" stroke="#707070" stroke-width="0.75" />
<line x1="332.80" y1="661.90" x2="339.20" y2="661.90" stroke="#707070" stroke-width="0.75" />
<line x1="332.80" y1="663.90" x2="339.20" y2="663.90" stroke="#707070" stroke-width="0.75" />
<line x1="332.80" y1="665.90" x2="339.20" y2="665.90" stroke="#707070" stroke-width="0.75" />
<line x1="332.80" y1="667.90" x2="339.20" y2="667.90" stroke="#707070" stroke-width="0.75" />
<line x1="332.80" y1="669.90" x2="339.20" y2="669.90" stroke="#707070" stroke-width="0.75" />
<line x1="332.80" y1="671.90" x2="339.20" y2="671.90" stroke="#707070" stroke-width="0.75" />
<line x1="332.80" y1="673.90" x2="339.20" y2="673.90" stroke="#707070" stroke-width="0.75" />
<line x1="332.80" y1="675.90" x2="339.20" y2="675.90" stroke="#707070" stroke-width="0.75" />
<line x1="332.80" y1="677.90" x2="339.20" y2="677.90" stroke="#707070" stroke-width="0.75" />
<line x1="332.80" y1="679.90" x2="339.20" y2="679.90" stroke="#707070" stroke-width="0.75" />
<line x1="332.80" y1="681.90" x2="339.20" y2="681.90" stroke="#707070" stroke-width="0.75" />
<line x1="332.80" y1="683.90" x2="339.20" y2="683.90" stroke="#707070" stroke-width="0.75" />
<line x1="332.80" y1="685.90" x2="339.20" y2="685.90" stroke="#707070" stroke-width="0.75" />
<line x1="332.80" y1="687.90" x2="339.20" y2="687.90" stroke="#707070" stroke-width="0.75" />
<line x1="332.80" y1="689.90" x2="339.20" y2="689.90" stroke="#707070" stroke-width="0.75" />
<line x1="332.80" y1="691.90" x2="339.20" y2="691.90" stroke="#707070" stroke-width="0.75" />
<line x1="332.80" y1="693.90" x2="339.20" y2="693.90" stroke="#707070" stroke-width="0.75" />
<line x1="332.80" y1="695.90" x2="339.20" y2="695.90" stroke="#707070" stroke-width="0.75" />
<line x1="332.80" y1="697.90" x2="339.20" y2="697.90" stroke="#707070" stroke-width="0.75" />
<line x1="332.80" y1="699.90" x2="339.20" y2="699.90" stroke="#707070" stroke-width="0.75" />
<line x1="332.80" y1="701.90" x2="339.20" y2="701.90" stroke="#707070" stroke-width="0.75" />
<line x1="332.80" y1="703.90" x2="339.20" y2="703.90" stroke="#707070" stroke-width="0.75" />
<line x1="332.80" y1="705.90" x2="339.20" y2="705.90" stroke="#707070" stroke-width="0.75" />
<line x1="332.80" y1="707.90" x2="339.20" y2="707.90" stroke="#707070" stroke-width="0.75" />
<line x1="332.80" y1="709.90" x2="339.20" y2="709.90" stroke="#707070" stroke-width="0.75" />
<line x1="332.80" y1="711.90" x2="339.20" y2="711.90" stroke="#707070" stroke-width="0.75" />
<line x1="332.80" y1="713.90" x2="339.20" y2="713.90" stroke="#707070" stroke-width="0.75" />
<line x1="332.80" y1="715.90" x2="339.20" y2="715.90" stroke="#707070" stroke-width="0.75" />
<line x1="332.80" y1="717.90" x2="339.20" y2="717.90" stroke="#707070" stroke-width="0.75" />
<line x1="332.80" y1="719.90" x2="339.20" y2="719.90" stroke="#707070" stroke-width="0.75" />
<line x1="332.80" y1="721.90" x2="339.20" y2="721.90" stroke="#707070" stroke-width="0.75" />
<line x1="332.80" y1="723.90" x2="339.20" y2="723.90" stroke="#707070" stroke-width="0.75" />
<line x1="332.80" y1="725.90" x2="339.20" y2="725.90" stroke="#707070" stroke-width="0.75" />
<line x1="332.80" y1="727.90" x2="339.20" y2="727.90" stroke="#707070" stroke-width="0.75" />
<line x1="332.80" y1="729.90" x2="339.20" y2="729.90" stroke="#707070" stroke-width="0.75" />
<line x1="332.80" y1="731.90" x2="339.20" y2="731.90" stroke="#707070" stroke-width="0.75" />
<rect x="353.20" y="716.40" width="7.20" height="17.20" fill="#000" stroke="#000" stroke-width="1.0" />
<rect x="360.40" y="717.80" width="7.20" height="15.80" fill="#fff" stroke="#000" stroke-width="1.4" />
<line x1="371.40" y1="711.20" x2="371.40" y2="713.70" stroke="#000" stroke-width="1.5" />
<line x1="369.10" y1="711.20" x2="373.70" y2="711.20" stroke="#000" stroke-width="1.6" />
<rect x="367.60" y="713.70" width="7.60" height="19.90" fill="#f2f2f2" stroke="#000" stroke-width="1.3" />
<line x1="368.20" y1="715.60" x2="374.60" y2="715.60" stroke="#707070" stroke-width="0.75" />
<line x1="368.20" y1="717.60" x2="374.60" y2="717.60" stroke="#707070" stroke-width="0.75" />
<line x1="368.20" y1="719.60" x2="374.60" y2="719.60" stroke="#707070" stroke-width="0.75" />
<line x1="368.20" y1="721.60" x2="374.60" y2="721.60" stroke="#707070" stroke-width="0.75" />
<line x1="368.20" y1="723.60" x2="374.60" y2="723.60" stroke="#707070" stroke-width="0.75" />
<line x1="368.20" y1="725.60" x2="374.60" y2="725.60" stroke="#707070" stroke-width="0.75" />
<line x1="368.20" y1="727.60" x2="374.60" y2="727.60" stroke="#707070" stroke-width="0.75" />
<line x1="368.20" y1="729.60" x2="374.60" y2="729.60" stroke="#707070" stroke-width="0.75" />
<line x1="368.20" y1="731.60" x2="374.60" y2="731.60" stroke="#707070" stroke-width="0.75" />
<polyline points="284.30,678.50 284.30,582.20 301.30,582.20 301.30,595.50" fill="none" stroke="#808080" stroke-width="1.3" stroke-linejoin="round"/>
<polyline points="286.80,678.50 286.80,591.20 292.30,591.20 292.30,646.30" fill="none" stroke="#808080" stroke-width="1.3" stroke-linejoin="round"/>
<polyline points="293.60,646.30 293.60,591.20 299.40,591.20 299.40,595.50" fill="none" stroke="#808080" stroke-width="1.3" stroke-linejoin="round"/>
<polygon points="292.80,573.10 293.65,574.83 295.56,575.10 294.18,576.45 294.50,578.35 292.80,577.45 291.10,578.35 291.42,576.45 290.04,575.10 291.95,574.83" fill="#000" />
<polygon points="288.60,584.30 289.45,586.03 291.36,586.30 289.98,587.65 290.30,589.55 288.60,588.65 286.90,589.55 287.22,587.65 285.84,586.30 287.75,586.03" fill="#000" />
<polygon points="297.00,584.30 297.85,586.03 299.76,586.30 298.38,587.65 298.70,589.55 297.00,588.65 295.30,589.55 295.62,587.65 294.24,586.30 296.15,586.03" fill="#000" />
<polyline points="328.20,642.60 328.20,619.60 335.80,619.60 335.80,628.20" fill="none" stroke="#808080" stroke-width="1.3" stroke-linejoin="round"/>
<polygon points="331.40,610.70 332.25,612.43 334.16,612.70 332.78,614.05 333.10,615.95 331.40,615.05 329.70,615.95 330.02,614.05 328.64,612.70 330.55,612.43" fill="#000" />
<line x1="439.20" y1="591.60" x2="439.20" y2="733.30" stroke="#000" stroke-width="1.4" />
<line x1="435.40" y1="592.10" x2="439.20" y2="592.10" stroke="#000" stroke-width="1.2" />
<text x="429.20" y="596.00" font-family="'Liberation Sans', sans-serif" font-size="11.1" font-weight="bold" text-anchor="end" fill="#000" >0.4</text>
<line x1="435.40" y1="627.40" x2="439.20" y2="627.40" stroke="#000" stroke-width="1.2" />
<text x="429.20" y="631.30" font-family="'Liberation Sans', sans-serif" font-size="11.1" font-weight="bold" text-anchor="end" fill="#000" >0.3</text>
<line x1="435.40" y1="662.70" x2="439.20" y2="662.70" stroke="#000" stroke-width="1.2" />
<text x="429.20" y="666.60" font-family="'Liberation Sans', sans-serif" font-size="11.1" font-weight="bold" text-anchor="end" fill="#000" >0.2</text>
<line x1="435.40" y1="698.00" x2="439.20" y2="698.00" stroke="#000" stroke-width="1.2" />
<text x="429.20" y="701.90" font-family="'Liberation Sans', sans-serif" font-size="11.1" font-weight="bold" text-anchor="end" fill="#000" >0.1</text>
<line x1="435.40" y1="733.30" x2="439.20" y2="733.30" stroke="#000" stroke-width="1.2" />
<text x="429.20" y="737.20" font-family="'Liberation Sans', sans-serif" font-size="11.1" font-weight="bold" text-anchor="end" fill="#000" >0.0</text>
<line x1="439.20" y1="733.30" x2="576.50" y2="733.30" stroke="#000" stroke-width="1.5" />
<line x1="456.40" y1="733.30" x2="456.40" y2="737.30" stroke="#000" stroke-width="1.3" />
<text transform="translate(459.50,747.30) rotate(-45)" font-family="'Liberation Sans', sans-serif" font-size="10" font-weight="bold" text-anchor="end">ChIP1</text>
<line x1="492.00" y1="733.30" x2="492.00" y2="737.30" stroke="#000" stroke-width="1.3" />
<text transform="translate(495.10,747.30) rotate(-45)" font-family="'Liberation Sans', sans-serif" font-size="10" font-weight="bold" text-anchor="end">ChIP2</text>
<line x1="527.60" y1="733.30" x2="527.60" y2="737.30" stroke="#000" stroke-width="1.3" />
<text transform="translate(530.70,747.30) rotate(-45)" font-family="'Liberation Sans', sans-serif" font-size="10" font-weight="bold" text-anchor="end">ChIP3</text>
<line x1="562.00" y1="733.30" x2="562.00" y2="737.30" stroke="#000" stroke-width="1.3" />
<text transform="translate(565.10,747.30) rotate(-45)" font-family="'Liberation Sans', sans-serif" font-size="10" font-weight="bold" text-anchor="end">ChIP4</text>
<text transform="translate(404.4,662.0) rotate(-90)" font-family="'Liberation Sans', sans-serif" font-size="10.7" font-weight="bold" text-anchor="middle">H3Ac</text>
<line x1="447.70" y1="730.00" x2="447.70" y2="731.20" stroke="#000" stroke-width="1.5" />
<line x1="445.90" y1="730.00" x2="449.50" y2="730.00" stroke="#000" stroke-width="1.6" />
<rect x="443.30" y="731.20" width="8.80" height="2.10" fill="#000" stroke="#000" stroke-width="1.0" />
<line x1="456.50" y1="729.80" x2="456.50" y2="730.80" stroke="#000" stroke-width="1.5" />
<line x1="454.70" y1="729.80" x2="458.30" y2="729.80" stroke="#000" stroke-width="1.6" />
<rect x="452.10" y="730.80" width="8.80" height="2.50" fill="#fff" stroke="#000" stroke-width="1.4" />
<rect x="460.90" y="731.80" width="8.80" height="1.50" fill="#f2f2f2" stroke="#000" stroke-width="1.3" />
<line x1="483.65" y1="631.50" x2="483.65" y2="637.70" stroke="#000" stroke-width="1.5" />
<line x1="481.05" y1="631.50" x2="486.25" y2="631.50" stroke="#000" stroke-width="1.6" />
<rect x="478.60" y="637.70" width="10.10" height="95.60" fill="#000" stroke="#000" stroke-width="1.0" />
<rect x="488.70" y="715.60" width="8.30" height="17.70" fill="#fff" stroke="#000" stroke-width="1.4" />
<rect x="497.40" y="719.60" width="8.80" height="13.70" fill="#f2f2f2" stroke="#000" stroke-width="1.3" />
<line x1="498.00" y1="721.50" x2="505.60" y2="721.50" stroke="#707070" stroke-width="0.75" />
<line x1="498.00" y1="723.50" x2="505.60" y2="723.50" stroke="#707070" stroke-width="0.75" />
<line x1="498.00" y1="725.50" x2="505.60" y2="725.50" stroke="#707070" stroke-width="0.75" />
<line x1="498.00" y1="727.50" x2="505.60" y2="727.50" stroke="#707070" stroke-width="0.75" />
<line x1="498.00" y1="729.50" x2="505.60" y2="729.50" stroke="#707070" stroke-width="0.75" />
<line x1="498.00" y1="731.50" x2="505.60" y2="731.50" stroke="#707070" stroke-width="0.75" />
<line x1="519.00" y1="622.60" x2="519.00" y2="633.30" stroke="#000" stroke-width="1.5" />
<line x1="516.60" y1="622.60" x2="521.40" y2="622.60" stroke="#000" stroke-width="1.6" />
<rect x="514.10" y="633.30" width="9.80" height="100.00" fill="#000" stroke="#000" stroke-width="1.0" />
<line x1="528.30" y1="671.90" x2="528.30" y2="676.30" stroke="#000" stroke-width="1.5" />
<line x1="525.90" y1="671.90" x2="530.70" y2="671.90" stroke="#000" stroke-width="1.6" />
<rect x="523.90" y="676.30" width="8.80" height="57.00" fill="#fff" stroke="#000" stroke-width="1.4" />
<rect x="533.20" y="724.20" width="8.60" height="9.10" fill="#f2f2f2" stroke="#000" stroke-width="1.3" />
<line x1="533.80" y1="726.10" x2="541.20" y2="726.10" stroke="#707070" stroke-width="0.75" />
<line x1="533.80" y1="728.10" x2="541.20" y2="728.10" stroke="#707070" stroke-width="0.75" />
<line x1="533.80" y1="730.10" x2="541.20" y2="730.10" stroke="#707070" stroke-width="0.75" />
<line x1="533.80" y1="732.10" x2="541.20" y2="732.10" stroke="#707070" stroke-width="0.75" />
<line x1="554.20" y1="680.30" x2="554.20" y2="686.40" stroke="#000" stroke-width="1.5" />
<line x1="551.80" y1="680.30" x2="556.60" y2="680.30" stroke="#000" stroke-width="1.6" />
<rect x="549.20" y="686.40" width="10.00" height="46.90" fill="#000" stroke="#000" stroke-width="1.0" />
<line x1="563.80" y1="680.30" x2="563.80" y2="685.80" stroke="#000" stroke-width="1.5" />
<line x1="561.40" y1="680.30" x2="566.20" y2="680.30" stroke="#000" stroke-width="1.6" />
<rect x="559.20" y="685.80" width="9.20" height="47.50" fill="#fff" stroke="#000" stroke-width="1.4" />
<rect x="568.40" y="695.60" width="8.80" height="37.70" fill="#f2f2f2" stroke="#000" stroke-width="1.3" />
<line x1="569.00" y1="697.50" x2="576.60" y2="697.50" stroke="#707070" stroke-width="0.75" />
<line x1="569.00" y1="699.50" x2="576.60" y2="699.50" stroke="#707070" stroke-width="0.75" />
<line x1="569.00" y1="701.50" x2="576.60" y2="701.50" stroke="#707070" stroke-width="0.75" />
<line x1="569.00" y1="703.50" x2="576.60" y2="703.50" stroke="#707070" stroke-width="0.75" />
<line x1="569.00" y1="705.50" x2="576.60" y2="705.50" stroke="#707070" stroke-width="0.75" />
<line x1="569.00" y1="707.50" x2="576.60" y2="707.50" stroke="#707070" stroke-width="0.75" />
<line x1="569.00" y1="709.50" x2="576.60" y2="709.50" stroke="#707070" stroke-width="0.75" />
<line x1="569.00" y1="711.50" x2="576.60" y2="711.50" stroke="#707070" stroke-width="0.75" />
<line x1="569.00" y1="713.50" x2="576.60" y2="713.50" stroke="#707070" stroke-width="0.75" />
<line x1="569.00" y1="715.50" x2="576.60" y2="715.50" stroke="#707070" stroke-width="0.75" />
<line x1="569.00" y1="717.50" x2="576.60" y2="717.50" stroke="#707070" stroke-width="0.75" />
<line x1="569.00" y1="719.50" x2="576.60" y2="719.50" stroke="#707070" stroke-width="0.75" />
<line x1="569.00" y1="721.50" x2="576.60" y2="721.50" stroke="#707070" stroke-width="0.75" />
<line x1="569.00" y1="723.50" x2="576.60" y2="723.50" stroke="#707070" stroke-width="0.75" />
<line x1="569.00" y1="725.50" x2="576.60" y2="725.50" stroke="#707070" stroke-width="0.75" />
<line x1="569.00" y1="727.50" x2="576.60" y2="727.50" stroke="#707070" stroke-width="0.75" />
<line x1="569.00" y1="729.50" x2="576.60" y2="729.50" stroke="#707070" stroke-width="0.75" />
<line x1="569.00" y1="731.50" x2="576.60" y2="731.50" stroke="#707070" stroke-width="0.75" />
<polyline points="483.40,623.10 483.40,609.40 502.30,609.40 502.30,706.70" fill="none" stroke="#808080" stroke-width="1.3" stroke-linejoin="round"/>
<polyline points="484.90,623.10 484.90,619.60 492.60,619.60 492.60,675.00" fill="none" stroke="#808080" stroke-width="1.3" stroke-linejoin="round"/>
<polyline points="494.20,675.00 494.20,619.60 500.60,619.60 500.60,706.70" fill="none" stroke="#808080" stroke-width="1.3" stroke-linejoin="round"/>
<line x1="492.60" y1="621.00" x2="492.60" y2="675.00" stroke="#9a9a9a" stroke-width="2.2" />
<polygon points="492.10,598.00 492.92,599.67 494.76,599.93 493.43,601.23 493.75,603.07 492.10,602.20 490.45,603.07 490.77,601.23 489.44,599.93 491.28,599.67" fill="#000" />
<polygon points="488.60,610.70 489.42,612.37 491.26,612.63 489.93,613.93 490.25,615.77 488.60,614.90 486.95,615.77 487.27,613.93 485.94,612.63 487.78,612.37" fill="#000" />
<polygon points="497.50,610.70 498.32,612.37 500.16,612.63 498.83,613.93 499.15,615.77 497.50,614.90 495.85,615.77 496.17,613.93 494.84,612.63 496.68,612.37" fill="#000" />
<polyline points="516.70,617.90 516.70,609.10 537.40,609.10 537.40,700.50" fill="none" stroke="#808080" stroke-width="1.3" stroke-linejoin="round"/>
<polyline points="518.20,617.90 518.20,619.60 526.90,619.60 526.90,659.20" fill="none" stroke="#808080" stroke-width="1.3" stroke-linejoin="round"/>
<polyline points="528.60,659.20 528.60,619.60 536.00,619.60 536.00,700.50" fill="none" stroke="#808080" stroke-width="1.3" stroke-linejoin="round"/>
<polygon points="526.80,598.20 527.62,599.87 529.46,600.13 528.13,601.43 528.45,603.27 526.80,602.40 525.15,603.27 525.47,601.43 524.14,600.13 525.98,599.87" fill="#000" />
<polygon points="522.70,610.70 523.52,612.37 525.36,612.63 524.03,613.93 524.35,615.77 522.70,614.90 521.05,615.77 521.37,613.93 520.04,612.63 521.88,612.37" fill="#000" />
<polygon points="531.90,610.70 532.72,612.37 534.56,612.63 533.23,613.93 533.55,615.77 531.90,614.90 530.25,615.77 530.57,613.93 529.24,612.63 531.08,612.37" fill="#000" />
<rect x="529.70" y="562.00" width="11.60" height="9.50" fill="#000" stroke="#000" stroke-width="1" />
<rect x="529.90" y="574.20" width="11.20" height="8.60" fill="#fff" stroke="#000" stroke-width="1.4" />
<rect x="529.90" y="585.60" width="11.20" height="8.70" fill="#f2f2f2" stroke="#000" stroke-width="1.3" />
<line x1="530.50" y1="587.50" x2="540.50" y2="587.50" stroke="#707070" stroke-width="0.75" />
<line x1="530.50" y1="589.50" x2="540.50" y2="589.50" stroke="#707070" stroke-width="0.75" />
<line x1="530.50" y1="591.50" x2="540.50" y2="591.50" stroke="#707070" stroke-width="0.75" />
<line x1="530.50" y1="593.50" x2="540.50" y2="593.50" stroke="#707070" stroke-width="0.75" />
<text x="548.00" y="569.90" font-family="'Liberation Sans', sans-serif" font-size="10.6" font-weight="normal" text-anchor="start" fill="#000" >HepG2</text>
<text x="548.00" y="581.70" font-family="'Liberation Sans', sans-serif" font-size="10.6" font-weight="normal" text-anchor="start" fill="#000" >Hep3B</text>
<text x="548.00" y="593.40" font-family="'Liberation Sans', sans-serif" font-size="10.6" font-weight="normal" text-anchor="start" fill="#000" >L02</text>
</svg>
</body></html>
